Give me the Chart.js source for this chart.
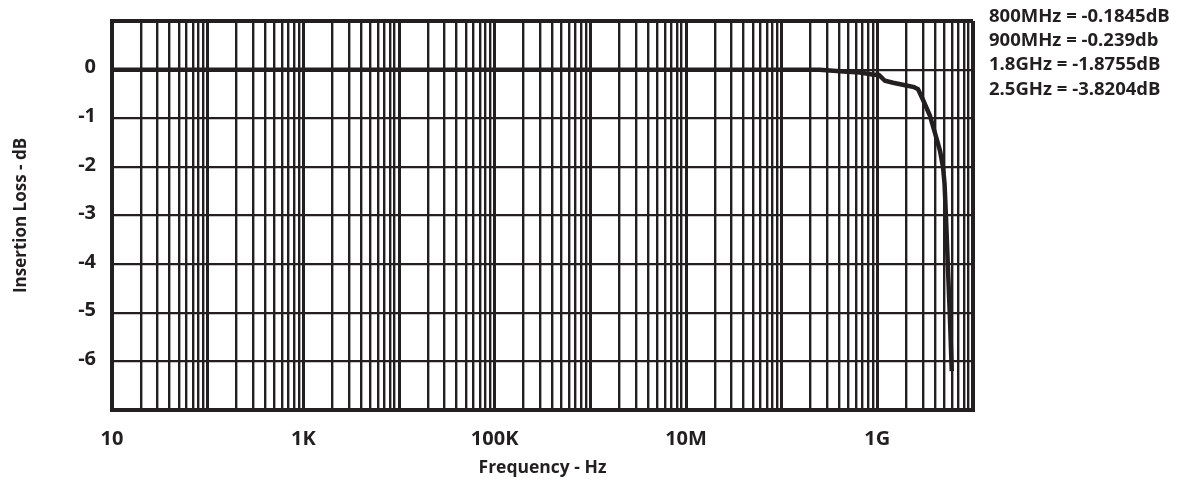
<!DOCTYPE html>
<html><head><meta charset="utf-8">
<script src="https://cdn.jsdelivr.net/npm/chart.js@4.4.1/dist/chart.umd.min.js"></script>
<style>html,body{margin:0;padding:0;background:#fff}#wrap{width:1186px;height:482px}</style>
</head><body><div id="wrap"><canvas id="c" width="1186" height="482"></canvas></div>
<script>
// Insertion loss curve
const freqHz = [10, 100, 1e3, 1e4, 1e5, 1e6, 1e7, 1e8, 2.5e8, 4.4e8, 6.6e8, 8.8e8, 1.04e9, 1.2e9, 1.46e9, 1.95e9, 2.42e9, 2.66e9, 3.0e9, 3.55e9, 4.0e9, 4.52e9, 4.86e9, 5.04e9, 5.22e9, 5.47e9, 5.74e9, 6.0e9];
const lossDb = [0, 0, 0, 0, 0, 0, 0, 0, -0.005, -0.04, -0.06, -0.10, -0.11, -0.23, -0.27, -0.32, -0.36, -0.40, -0.62, -0.95, -1.30, -1.67, -2.01, -2.34, -3.04, -4.07, -5.10, -6.2];
const xTickValues = [10, 1e3, 1e5, 1e7, 1e9];
const xTickLabels = ['10', '1K', '100K', '10M', '1G'];
const yTickValues = [0, -1, -2, -3, -4, -5, -6];
const noteLines = ['800MHz = -0.1845dB', '900MHz = -0.239db', '1.8GHz = -1.8755dB', '2.5GHz = -3.8204dB'];
const xTitle = 'Frequency - Hz';
const yTitle = 'Insertion Loss - dB';

const INK = '#231f20';
const FONT = '"Open Sans", "DejaVu Sans", sans-serif';

const notesPlugin = {
  id: 'notes',
  afterDraw(chart) {
    const ctx = chart.ctx;
    ctx.save();
    ctx.fillStyle = INK;
    ctx.font = 'bold 18.5px ' + FONT;
    ctx.textAlign = 'left';
    ctx.textBaseline = 'middle';
    const x0 = chart.chartArea.right + 16;
    noteLines.forEach((t, i) => ctx.fillText(t, x0, 16.5 + i * 24.3));
    ctx.restore();
  }
};

const isDecade = v => Math.abs(Math.log10(v) - Math.round(Math.log10(v))) < 1e-9;

new Chart(document.getElementById('c'), {
  type: 'line',
  data: {
    datasets: [{
      data: freqHz.map((f, i) => ({x: f, y: lossDb[i]})),
      borderColor: INK,
      borderWidth: 4.5,
      pointRadius: 0,
      tension: 0,
      fill: false
    }]
  },
  options: {
    responsive: false,
    animation: false,
    layout: {padding: {left: 0, right: 213, top: 21, bottom: 0}},
    plugins: {legend: {display: false}, tooltip: {enabled: false}},
    scales: {
      x: {
        type: 'logarithmic',
        min: 10, max: 1e10,
        afterBuildTicks(scale) {
          const t = [];
          for (let e = 1; e <= 9; e++) for (let k = 1; k <= 9; k++) t.push({value: k * Math.pow(10, e)});
          t.push({value: 1e10});
          scale.ticks = t;
        },
        afterFit(scale) { scale.height = 72; scale.paddingLeft = 0; scale.paddingRight = 0; },
        ticks: {
          autoSkip: false, maxRotation: 0, minRotation: 0, padding: 17,
          color: INK, font: {family: FONT, size: 20, weight: 'bold'},
          callback(v) {
            const i = xTickValues.findIndex(t => Math.abs(t - v) / t < 1e-6);
            return i >= 0 ? xTickLabels[i] : '';
          }
        },
        grid: {
          drawTicks: false,
          color: INK,
          lineWidth: c => {
            const v = c.tick ? c.tick.value : 0;
            if (v >= 1e10 * 0.999 || v <= 10.001) return 4;
            return isDecade(v) ? 3 : 2.4;
          }
        },
        border: {display: true, color: INK, width: 4},
        title: {display: true, text: xTitle, color: INK, font: {family: FONT, size: 17.5, weight: 'bold'}, padding: {top: 0, bottom: 3}}
      },
      y: {
        type: 'linear',
        min: -7, max: 1,
        afterBuildTicks(scale) {
          const t = [];
          for (let v = 1; v >= -7; v--) t.push({value: v});
          scale.ticks = t;
        },
        afterFit(scale) { scale.width = 112; scale.paddingTop = 0; scale.paddingBottom = 0; },
        ticks: {
          padding: 16, labelOffset: -2,
          color: INK, font: {family: FONT, size: 20, weight: 'bold'},
          callback(v) { return yTickValues.includes(v) ? String(v) : ''; }
        },
        grid: {
          drawTicks: false,
          color: INK,
          lineWidth: c => {
            const v = c.tick ? c.tick.value : 0;
            return (v === 1 || v === -7) ? 4 : 2.2;
          }
        },
        border: {display: true, color: INK, width: 4},
        title: {display: true, text: yTitle, color: INK, font: {family: FONT, size: 17, weight: 'bold'}, padding: {top: 11, bottom: 0}}
      }
    }
  },
  plugins: [notesPlugin]
});
</script>
</body></html>
